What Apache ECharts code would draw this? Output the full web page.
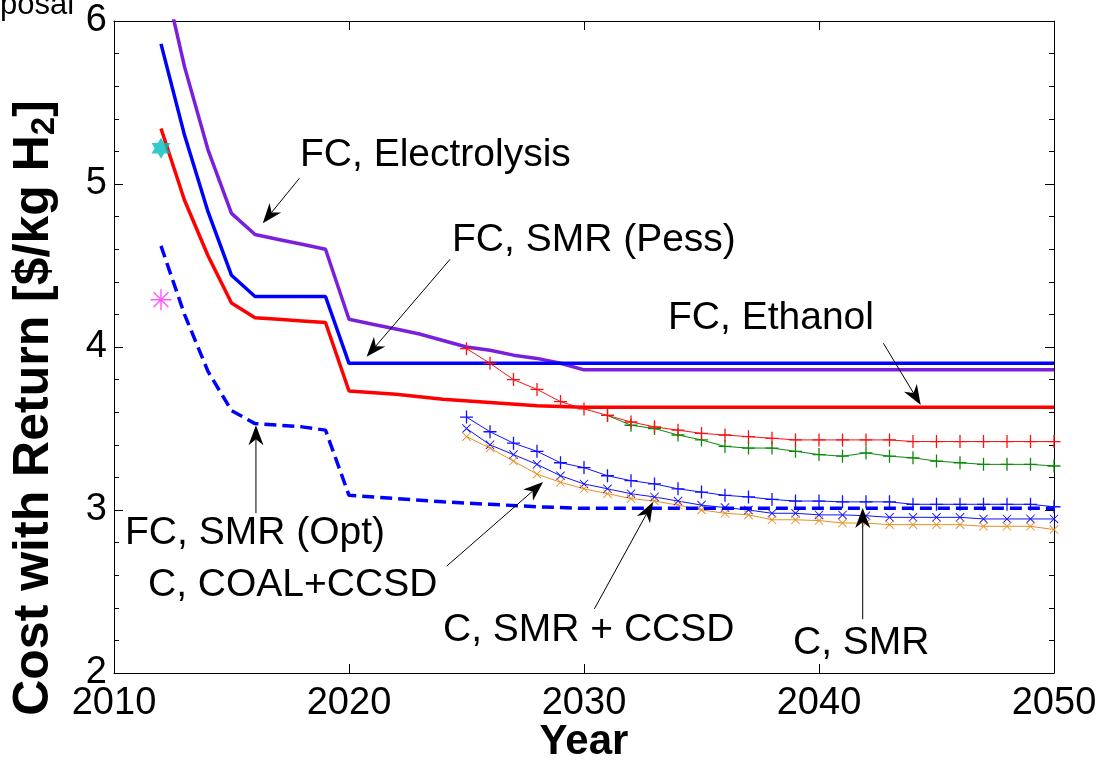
<!DOCTYPE html>
<html>
<head>
<meta charset="utf-8">
<script src="https://cdn.jsdelivr.net/npm/echarts@6/dist/echarts.min.js"></script>
<style>html,body{margin:0;padding:0;background:#fff}#c{width:1115px;height:761px}</style>
</head>
<body>
<div id="c"></div>
<script>
// ---------- data ----------
const elecYears = [2012,2013,2014,2015,2016,2017,2018,2019,2020,2021,2022,2023,2024,2025,2026,2027,2028,2029,2030,2050];
const elecVals  = [6.35,5.72,5.21,4.82,4.69,4.66,4.63,4.60,4.17,4.14,4.11,4.08,4.04,4.00,3.98,3.95,3.93,3.90,3.86,3.86];

const pessYears = [2012,2013,2014,2015,2016,2017,2018,2019,2020,2050];
const pessVals  = [5.86,5.30,4.83,4.44,4.31,4.31,4.31,4.31,3.90,3.90];

const ethYears = [2012,2013,2014,2015,2016,2017,2018,2019,2020,2022,2024,2026,2028,2030,2050];
const ethVals  = [5.34,4.90,4.56,4.27,4.18,4.17,4.16,4.15,3.73,3.71,3.68,3.66,3.64,3.63,3.63];

const optYears = [2012,2013,2014,2015,2016,2017,2018,2019,2020,2022,2024,2026,2028,2030,2050];
const optVals  = [4.62,4.20,3.85,3.61,3.53,3.52,3.51,3.49,3.09,3.07,3.05,3.035,3.02,3.01,3.01];

const cYears = [2025,2026,2027,2028,2029,2030,2031,2032,2033,2034,2035,2036,2037,2038,2039,2040,2041,2042,2043,2044,2045,2046,2047,2048,2049,2050];
const redPlus    = [3.99,3.90,3.80,3.74,3.665,3.62,3.58,3.54,3.51,3.49,3.47,3.46,3.45,3.44,3.43,3.43,3.43,3.43,3.43,3.42,3.42,3.42,3.42,3.42,3.42,3.42];
const greenPlus  = [null,null,null,null,null,null,3.58,3.52,3.50,3.46,3.43,3.39,3.38,3.38,3.36,3.34,3.33,3.35,3.33,3.32,3.30,3.29,3.28,3.28,3.28,3.27];
const bluePlus   = [3.57,3.48,3.41,3.36,3.29,3.26,3.21,3.18,3.16,3.13,3.11,3.09,3.08,3.065,3.055,3.055,3.05,3.05,3.05,3.035,3.035,3.035,3.035,3.035,3.035,3.02];
const blueX      = [3.50,3.40,3.34,3.28,3.21,3.16,3.13,3.10,3.08,3.055,3.03,3.015,3.00,2.98,2.98,2.97,2.97,2.965,2.955,2.955,2.955,2.955,2.945,2.945,2.945,2.945];
const orangeX    = [3.45,3.38,3.30,3.22,3.17,3.13,3.10,3.07,3.055,3.03,3.00,2.98,2.97,2.94,2.94,2.935,2.92,2.92,2.91,2.91,2.91,2.91,2.90,2.90,2.90,2.88];

const starPoint = [[2012, 5.22]];
const asteriskPoint = [[2012, 4.29]];

const xTicks = [2010, 2020, 2030, 2040, 2050];
const yTicks = [2, 3, 4, 5, 6];

// annotation arrows: [fromX, fromY] -> [toX, toY] in data units
const arrowFrom = [[2017.89,5.035],[2024.30,4.538],[2042.74,4.023],[2016.04,2.98],[2024.16,2.656],[2030.44,2.393],[2041.86,2.33]];
const arrowTo   = [[2016.33,4.759],[2020.75,3.94],[2044.33,3.644],[2016.04,3.52],[2028.26,3.172],[2032.94,3.049],[2041.86,3.012]];
const annotationTexts = ['FC, Electrolysis','FC, SMR (Pess)','FC, Ethanol','FC, SMR (Opt)','C, COAL+CCSD','C, SMR + CCSD','C, SMR'];

// ---------- build ----------
const zip = (xs, ys) => xs.map((x, i) => [x, ys[i]]).filter(p => p[1] !== null);
const FONT = '"Liberation Sans", Arial, sans-serif';
const PLUS = 'path://M9,0H11V20H9ZM0,9H20V11H0Z';
const CROSS = 'path://M0,1.4L1.4,0L20,18.6L18.6,20ZM18.6,0L20,1.4L1.4,20L0,18.6Z';
const ASTER = 'path://M9.3,0H10.7V20H9.3ZM0,9.3H20V10.7H0ZM2.4,3.4L3.4,2.4L17.6,16.6L16.6,17.6ZM16.6,2.4L17.6,3.4L3.4,17.6L2.4,16.6Z';
const HEX = 'path://M5,0L9.33,7.5L0.67,7.5ZM5,10L0.67,2.5L9.33,2.5Z';

function thick(name, xs, ys, color, dashed) {
  return {name, type:'line', data: zip(xs, ys), showSymbol:false, symbol:'none',
    lineStyle:{color, width:3.5, type: dashed ? [12,6] : 'solid'}, z: dashed ? 4 : 2, animation:false};
}
function thin(name, ys, color, sym, size) {
  return {name, type:'line', data: zip(cYears, ys), symbol: sym, symbolSize: size, showAllSymbol:true,
    itemStyle:{color}, lineStyle:{color, width:1}, clip:false, z:3, animation:false};
}

const chart = echarts.init(document.getElementById('c'), null, {renderer:'canvas'});
const axisCommon = {
  axisLine:{show:true, onZero:false, lineStyle:{color:'#000', width:1}},
  axisTick:{show:true, inside:true, length:9, lineStyle:{color:'#000'}},
  splitLine:{show:false}
};
chart.setOption({
  backgroundColor:'#fff',
  animation:false,
  grid:{left:114, right:61, top:21, bottom:88, containLabel:false},
  xAxis:[
    Object.assign({type:'value', min:xTicks[0], max:xTicks[xTicks.length-1], interval:10, position:'bottom',
      axisLabel:{color:'#000', fontFamily:FONT, fontSize:38, margin:12, formatter: v => String(v)}}, axisCommon),
    Object.assign({type:'value', min:xTicks[0], max:xTicks[xTicks.length-1], interval:10, position:'top',
      axisLabel:{show:false}}, axisCommon)
  ],
  yAxis:[
    Object.assign({type:'value', min:yTicks[0], max:yTicks[yTicks.length-1], interval:1, position:'left',
      axisLabel:{color:'#000', fontFamily:FONT, fontSize:38, margin:7, formatter: v => String(v)},
      minorTick:{show:true, splitNumber:5, length:5, lineStyle:{color:'#000'}}}, axisCommon),
    Object.assign({type:'value', min:yTicks[0], max:yTicks[yTicks.length-1], interval:1, position:'right',
      axisLabel:{show:false},
      minorTick:{show:true, splitNumber:5, length:5, lineStyle:{color:'#000'}}}, axisCommon)
  ],
  series:[
    thick('FC, Electrolysis', elecYears, elecVals, '#7A1FDC'),
    thick('FC, SMR (Pess)', pessYears, pessVals, '#0000FF'),
    thick('FC, Ethanol', ethYears, ethVals, '#FF0000'),
    thin('C green', greenPlus, '#0A8A0A', PLUS, 13),
    thin('C red', redPlus, '#FF1010', PLUS, 13),
    thin('C, SMR', bluePlus, '#1010FF', PLUS, 13),
    thin('C, SMR + CCSD', blueX, '#1010FF', CROSS, 9),
    thin('C, COAL+CCSD', orangeX, '#EA8E22', CROSS, 9),
    thick('FC, SMR (Opt)', optYears, optVals, '#0000FF', true),
    {type:'scatter', data: starPoint, symbol: HEX, symbolSize:[19,21], itemStyle:{color:'#00BDBD'}, z:5},
    {type:'scatter', data: asteriskPoint, symbol: ASTER, symbolSize:21, itemStyle:{color:'#FF33FF'}, z:5},
    {type:'custom', clip:false, z:6, silent:true,
      data: arrowFrom.map((f, i) => [f[0], f[1], arrowTo[i][0], arrowTo[i][1]]),
      renderItem: function(params, api) {
        const p1 = api.coord([api.value(0), api.value(1)]);
        const p2 = api.coord([api.value(2), api.value(3)]);
        const dx = p2[0]-p1[0], dy = p2[1]-p1[1];
        const len = Math.sqrt(dx*dx+dy*dy);
        const ux = dx/len, uy = dy/len, nx = -uy, ny = ux;
        const L = 20, W = 7.5, N = 14;
        const bx = p2[0]-ux*L, by = p2[1]-uy*L;
        const mx = p2[0]-ux*N, my = p2[1]-uy*N;
        return {type:'group', children:[
          {type:'line', shape:{x1:p1[0], y1:p1[1], x2:mx, y2:my}, style:{stroke:'#000', lineWidth:1}},
          {type:'polygon', shape:{points:[[p2[0],p2[1]],[bx+nx*W,by+ny*W],[mx,my],[bx-nx*W,by-ny*W]]}, style:{fill:'#000'}}
        ]};
      }}
  ],
  graphic:[
    {type:'text', x:0, y:5, style:{text:'posal', font:'31px ' + FONT, fill:'#000', verticalAlign:'middle', align:'left'}},
    {type:'text', x:34, y:408, rotation:Math.PI/2,
      style:{text:'{b|Cost with Return [$/kg H}{s|2}{b|]}', fill:'#000', align:'center', verticalAlign:'middle',
        rich:{b:{fontFamily:FONT, fontWeight:'bold', fontSize:50, fill:'#000'},
              s:{fontFamily:FONT, fontWeight:'bold', fontSize:33, fill:'#000', padding:[22,0,0,0]}}}},
    {type:'text', x:584, y:742, style:{text:'Year', font:'bold 42px ' + FONT, fill:'#000', align:'center', verticalAlign:'middle'}},
    {type:'text', x:300, y:155, style:{text:annotationTexts[0], font:'39px ' + FONT, fill:'#000', verticalAlign:'middle'}},
    {type:'text', x:452, y:240, style:{text:annotationTexts[1], font:'39px ' + FONT, fill:'#000', verticalAlign:'middle'}},
    {type:'text', x:668, y:318, style:{text:annotationTexts[2], font:'39px ' + FONT, fill:'#000', verticalAlign:'middle'}},
    {type:'text', x:125, y:533, style:{text:annotationTexts[3], font:'39px ' + FONT, fill:'#000', verticalAlign:'middle'}},
    {type:'text', x:148, y:585, style:{text:annotationTexts[4], font:'39px ' + FONT, fill:'#000', verticalAlign:'middle'}},
    {type:'text', x:443, y:630, style:{text:annotationTexts[5], font:'39px ' + FONT, fill:'#000', verticalAlign:'middle'}},
    {type:'text', x:793, y:643, style:{text:annotationTexts[6], font:'39px ' + FONT, fill:'#000', verticalAlign:'middle'}}
  ]
});
</script>
</body>
</html>
